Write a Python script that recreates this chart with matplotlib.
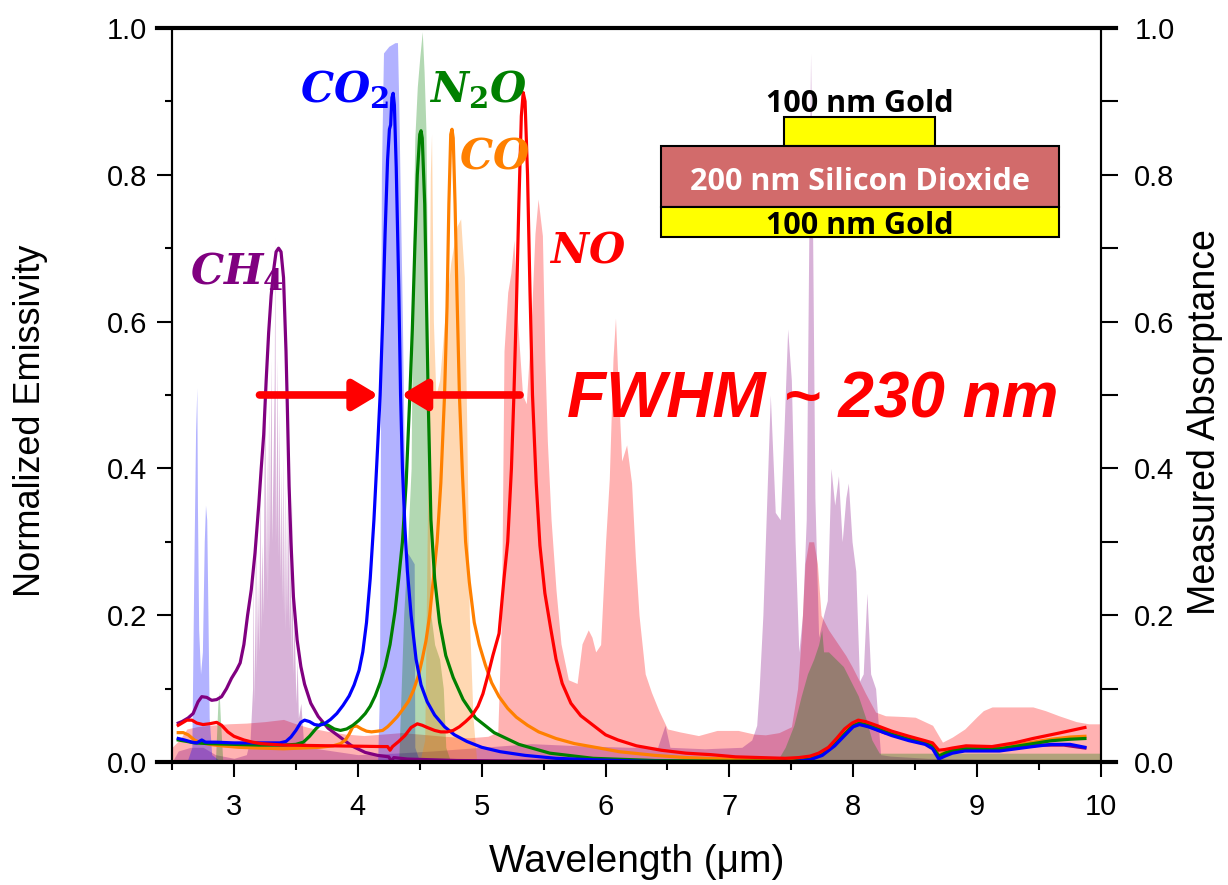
import numpy as np
import matplotlib
matplotlib.use("Agg")
import matplotlib.pyplot as plt
from matplotlib.patches import Rectangle
from matplotlib.ticker import MultipleLocator, FormatStrFormatter

plt.rcParams['font.family'] = ['Liberation Sans', 'DejaVu Sans']
plt.rcParams['mathtext.fontset'] = 'custom'
plt.rcParams['mathtext.it'] = 'DejaVu Serif:italic:bold'
plt.rcParams['mathtext.rm'] = 'DejaVu Serif:bold'

# ---- measured emissivity of the five emitters (left axis) ----
ch4_wl = [2.55, 2.58, 2.63, 2.67, 2.71, 2.74, 2.78, 2.82, 2.86, 2.90, 2.94, 2.98, 3.02, 3.05,
          3.08, 3.11, 3.14, 3.17, 3.20, 3.22, 3.24, 3.26, 3.28, 3.30, 3.32, 3.34, 3.36, 3.38,
          3.40, 3.42, 3.43, 3.445, 3.46, 3.48, 3.51, 3.54, 3.57, 3.62, 3.68, 3.76, 3.84, 3.95,
          4.06, 4.16, 4.25, 4.27, 4.29, 4.40, 4.8, 5.5, 6.5, 7.3, 7.55, 7.7, 7.8, 7.9, 7.97,
          8.04, 8.12, 8.25, 8.4, 8.55, 8.63, 8.68, 8.72, 8.8, 8.9, 9.1, 9.3, 9.5, 9.7, 9.87]
ch4_em = [0.053, 0.055, 0.060, 0.066, 0.082, 0.089, 0.088, 0.084, 0.085, 0.089, 0.100, 0.114,
          0.125, 0.135, 0.160, 0.200, 0.235, 0.285, 0.350, 0.400, 0.446, 0.520, 0.585, 0.635,
          0.670, 0.695, 0.700, 0.695, 0.660, 0.560, 0.490, 0.376, 0.300, 0.225, 0.166, 0.130,
          0.106, 0.080, 0.062, 0.046, 0.036, 0.022, 0.013, 0.009, 0.007, 0.001, 0.006, 0.004,
          0.002, 0.001, 0.001, 0.001, 0.002, 0.008, 0.018, 0.036, 0.048, 0.052, 0.049, 0.040,
          0.034, 0.029, 0.024, 0.010, 0.008, 0.014, 0.016, 0.016, 0.019, 0.023, 0.023, 0.019]

co2_wl = [2.55, 2.60, 2.66, 2.70, 2.74, 2.77, 2.85, 3.0, 3.2, 3.37, 3.42, 3.46, 3.50, 3.54,
          3.57, 3.61, 3.65, 3.69, 3.73, 3.78, 3.83, 3.88, 3.93, 3.97, 4.01, 4.04, 4.07, 4.10,
          4.13, 4.16, 4.18, 4.20, 4.22, 4.24, 4.255, 4.265, 4.275, 4.285, 4.295, 4.31, 4.33,
          4.345, 4.36, 4.38, 4.40, 4.43, 4.47, 4.51, 4.56, 4.62, 4.70, 4.78, 4.88, 5.00, 5.15,
          5.35, 5.6, 5.9, 6.3, 7.0, 7.5, 7.65, 7.75, 7.85, 7.93, 8.0, 8.05, 8.12, 8.2, 8.31,
          8.45, 8.58, 8.64, 8.69, 8.74, 8.80, 8.9, 9.18, 9.45, 9.6, 9.75, 9.87]
co2_em = [0.032, 0.030, 0.027, 0.026, 0.030, 0.027, 0.027, 0.026, 0.026, 0.026, 0.028, 0.034,
          0.043, 0.054, 0.057, 0.055, 0.051, 0.050, 0.052, 0.058, 0.066, 0.077, 0.090, 0.105,
          0.125, 0.150, 0.190, 0.250, 0.330, 0.430, 0.500, 0.600, 0.720, 0.820, 0.862, 0.868,
          0.905, 0.911, 0.895, 0.810, 0.650, 0.500, 0.400, 0.320, 0.260, 0.200, 0.140, 0.105,
          0.082, 0.064, 0.048, 0.037, 0.028, 0.020, 0.014, 0.009, 0.005, 0.003, 0.001, 0.0,
          0.0, 0.003, 0.009, 0.022, 0.036, 0.048, 0.051, 0.048, 0.043, 0.036, 0.029, 0.024,
          0.018, 0.004, 0.008, 0.012, 0.015, 0.015, 0.021, 0.024, 0.024, 0.020]

n2o_wl = [2.55, 2.62, 2.68, 2.80, 3.0, 3.2, 3.40, 3.50, 3.56, 3.61, 3.66, 3.71, 3.76, 3.81,
          3.86, 3.91, 3.96, 4.01, 4.06, 4.10, 4.14, 4.18, 4.22, 4.26, 4.30, 4.33, 4.36, 4.39,
          4.42, 4.44, 4.46, 4.48, 4.50, 4.51, 4.52, 4.54, 4.555, 4.57, 4.59, 4.62, 4.66, 4.71,
          4.77, 4.85, 4.95, 5.10, 5.30, 5.55, 5.9, 6.4, 7.0, 7.5, 7.65, 7.75, 7.85, 7.93, 8.0,
          8.05, 8.12, 8.2, 8.31, 8.45, 8.58, 8.64, 8.69, 8.74, 8.80, 8.9, 9.18, 9.45, 9.6,
          9.75, 9.87]
n2o_em = [0.030, 0.028, 0.026, 0.025, 0.024, 0.023, 0.023, 0.024, 0.027, 0.035, 0.045, 0.053,
          0.050, 0.045, 0.043, 0.045, 0.050, 0.057, 0.066, 0.076, 0.090, 0.108, 0.130, 0.160,
          0.205, 0.250, 0.300, 0.380, 0.500, 0.590, 0.700, 0.800, 0.855, 0.860, 0.850, 0.760,
          0.620, 0.480, 0.330, 0.250, 0.190, 0.145, 0.115, 0.085, 0.060, 0.040, 0.024, 0.012,
          0.005, 0.002, 0.001, 0.001, 0.004, 0.010, 0.024, 0.038, 0.050, 0.053, 0.050, 0.045,
          0.038, 0.031, 0.026, 0.021, 0.008, 0.012, 0.016, 0.018, 0.018, 0.025, 0.029, 0.031,
          0.032]

co_wl = [2.55, 2.59, 2.63, 2.68, 2.72, 2.80, 2.9, 3.04, 3.2, 3.40, 3.55, 3.69, 3.80, 3.86,
         3.90, 3.93, 3.96, 3.99, 4.03, 4.07, 4.11, 4.16, 4.20, 4.24, 4.27, 4.32, 4.36, 4.41,
         4.45, 4.49, 4.52, 4.55, 4.58, 4.61, 4.64, 4.67, 4.70, 4.72, 4.735, 4.75, 4.76, 4.77,
         4.785, 4.80, 4.82, 4.845, 4.87, 4.90, 4.94, 4.98, 5.03, 5.08, 5.14, 5.21, 5.28, 5.37,
         5.46, 5.6, 5.75, 5.95, 6.11, 6.4, 6.65, 7.0, 7.5, 7.65, 7.75, 7.85, 7.93, 8.0, 8.05,
         8.12, 8.2, 8.31, 8.45, 8.58, 8.64, 8.69, 8.74, 8.80, 8.9, 9.18, 9.45, 9.6, 9.75, 9.87]
co_em = [0.040, 0.040, 0.037, 0.030, 0.027, 0.024, 0.022, 0.020, 0.019, 0.018, 0.019, 0.020,
         0.022, 0.025, 0.030, 0.038, 0.048, 0.049, 0.045, 0.042, 0.041, 0.042, 0.043, 0.048,
         0.053, 0.062, 0.071, 0.083, 0.098, 0.118, 0.140, 0.165, 0.200, 0.250, 0.300, 0.380,
         0.500, 0.620, 0.760, 0.855, 0.862, 0.850, 0.760, 0.640, 0.500, 0.390, 0.300, 0.245,
         0.190, 0.160, 0.132, 0.108, 0.089, 0.073, 0.061, 0.050, 0.041, 0.032, 0.025, 0.019,
         0.014, 0.009, 0.006, 0.004, 0.003, 0.006, 0.012, 0.025, 0.040, 0.051, 0.054, 0.051,
         0.046, 0.039, 0.032, 0.027, 0.022, 0.010, 0.013, 0.017, 0.019, 0.019, 0.027, 0.031,
         0.034, 0.035]

no_wl = [2.55, 2.58, 2.62, 2.66, 2.70, 2.75, 2.80, 2.86, 2.90, 2.95, 3.00, 3.08, 3.15, 3.22,
         3.40, 3.8, 4.20, 4.24, 4.26, 4.28, 4.33, 4.38, 4.43, 4.48, 4.52, 4.56, 4.62, 4.67,
         4.72, 4.77, 4.82, 4.87, 4.92, 4.97, 5.01, 5.05, 5.09, 5.14, 5.18, 5.21, 5.24, 5.26,
         5.28, 5.30, 5.32, 5.335, 5.35, 5.37, 5.39, 5.41, 5.44, 5.47, 5.51, 5.556, 5.60, 5.65,
         5.72, 5.80, 5.90, 6.00, 6.10, 6.25, 6.45, 6.65, 6.85, 7.05, 7.25, 7.45, 7.56, 7.65,
         7.72, 7.80, 7.87, 7.93, 7.99, 8.04, 8.10, 8.20, 8.31, 8.45, 8.58, 8.64, 8.69, 8.74,
         8.80, 8.91, 9.12, 9.30, 9.45, 9.65, 9.87]
no_em = [0.050, 0.053, 0.057, 0.057, 0.053, 0.051, 0.052, 0.054, 0.050, 0.041, 0.035, 0.030,
         0.027, 0.025, 0.023, 0.022, 0.021, 0.021, 0.016, 0.021, 0.028, 0.036, 0.047, 0.052,
         0.050, 0.047, 0.043, 0.041, 0.041, 0.043, 0.048, 0.055, 0.063, 0.076, 0.093, 0.118,
         0.145, 0.175, 0.250, 0.300, 0.400, 0.500, 0.620, 0.760, 0.880, 0.912, 0.900, 0.800,
         0.640, 0.500, 0.380, 0.295, 0.230, 0.183, 0.140, 0.107, 0.080, 0.063, 0.050, 0.037,
         0.030, 0.022, 0.016, 0.012, 0.010, 0.007, 0.006, 0.005, 0.006, 0.008, 0.012, 0.020,
         0.033, 0.045, 0.053, 0.057, 0.055, 0.049, 0.042, 0.035, 0.029, 0.026, 0.016, 0.017,
         0.019, 0.022, 0.021, 0.026, 0.032, 0.039, 0.047]

# ---- gas absorptance spectra (right axis) ----
ch4_abs_wl = [2.50, 2.55, 2.65, 2.75, 2.85, 3.0, 3.10, 3.13, 3.15, 3.155, 3.16, 3.17, 3.175,
              3.18, 3.19, 3.20, 3.21, 3.215, 3.225, 3.235, 3.245, 3.25, 3.255, 3.265, 3.27,
              3.28, 3.285, 3.295, 3.30, 3.305, 3.315, 3.325, 3.33, 3.335, 3.345, 3.35, 3.355,
              3.365, 3.37, 3.38, 3.385, 3.395, 3.40, 3.41, 3.415, 3.425, 3.43, 3.44, 3.445,
              3.455, 3.46, 3.47, 3.475, 3.485, 3.50, 3.51, 3.52, 3.54, 3.56, 3.6, 3.8, 4.0,
              4.3, 4.6, 5.0, 5.4, 5.8, 6.2, 6.42, 6.48, 6.52, 6.8, 7.1, 7.18, 7.22, 7.24, 7.27,
              7.30, 7.33, 7.35, 7.37, 7.41, 7.44, 7.47, 7.50, 7.53, 7.56, 7.59, 7.62, 7.64,
              7.655, 7.67, 7.69, 7.72, 7.76, 7.79, 7.82, 7.85, 7.88, 7.91, 7.94, 7.96, 7.99,
              8.02, 8.05, 8.08, 8.11, 8.14, 8.18, 8.22, 8.3, 8.6, 9.0, 10.0]
ch4_abs = [0.0, 0.015, 0.02, 0.02, 0.01, 0.005, 0.01, 0.03, 0.10, 0.27, 0.08, 0.20, 0.36,
           0.12, 0.25, 0.15, 0.40, 0.18, 0.30, 0.20, 0.45, 0.54, 0.25, 0.42, 0.22, 0.50, 0.28,
           0.46, 0.55, 0.30, 0.40, 0.52, 0.716, 0.30, 0.45, 0.55, 0.28, 0.48, 0.25, 0.40,
           0.22, 0.42, 0.20, 0.38, 0.18, 0.36, 0.20, 0.44, 0.18, 0.30, 0.14, 0.36, 0.12, 0.20,
           0.08, 0.14, 0.06, 0.08, 0.03, 0.02, 0.015, 0.01, 0.012, 0.015, 0.02, 0.025, 0.022,
           0.02, 0.02, 0.05, 0.02, 0.018, 0.02, 0.03, 0.05, 0.10, 0.20, 0.35, 0.50, 0.42,
           0.34, 0.33, 0.45, 0.59, 0.52, 0.30, 0.15, 0.20, 0.33, 0.70, 0.966, 0.75, 0.36,
           0.17, 0.20, 0.22, 0.40, 0.35, 0.39, 0.30, 0.36, 0.38, 0.30, 0.26, 0.11, 0.12, 0.23,
           0.12, 0.10, 0.01, 0.008, 0.005, 0.004, 0.003]

co2_abs_wl = [2.62, 2.66, 2.675, 2.69, 2.70, 2.705, 2.715, 2.73, 2.745, 2.76, 2.77, 2.78, 2.79,
              2.80, 2.82, 2.9, 4.10, 4.16, 4.175, 4.19, 4.207, 4.25, 4.30, 4.32, 4.33, 4.36,
              4.376, 4.38, 4.42, 4.455, 4.46, 4.50]
co2_abs = [0.0, 0.02, 0.25, 0.45, 0.51, 0.35, 0.18, 0.12, 0.15, 0.30, 0.35, 0.33, 0.20, 0.06,
           0.01, 0.0, 0.0, 0.0, 0.10, 0.80, 0.966, 0.975, 0.98, 0.98, 0.90, 0.60, 0.40, 0.29,
           0.28, 0.27, 0.02, 0.0]

n2o_abs_wl = [2.85, 2.87, 2.88, 2.89, 2.91, 4.33, 4.37, 4.40, 4.43, 4.445, 4.46, 4.48, 4.50,
              4.52, 4.535, 4.55, 4.56, 4.57, 4.59, 4.62, 4.66, 4.69, 4.71, 4.75, 7.38, 7.45,
              7.52, 7.58, 7.63, 7.68, 7.72, 7.745, 7.76, 7.80, 7.86, 7.92, 7.98, 8.04, 8.10,
              8.15, 8.21, 8.30, 9.0, 10.0]
n2o_abs = [0.0, 0.08, 0.096, 0.06, 0.0, 0.0, 0.20, 0.29, 0.40, 0.70, 0.85, 0.92, 0.96, 0.995,
           0.94, 0.86, 0.70, 0.40, 0.20, 0.16, 0.14, 0.10, 0.02, 0.0, 0.0, 0.02, 0.05, 0.09,
           0.12, 0.14, 0.16, 0.18, 0.15, 0.15, 0.14, 0.13, 0.11, 0.09, 0.06, 0.03, 0.012,
           0.012, 0.012, 0.012]

co_abs_wl = [4.50, 4.54, 4.57, 4.585, 4.595, 4.61, 4.63, 4.66, 4.70, 4.75, 4.80, 4.83, 4.86,
             4.88, 4.90, 4.93, 4.96]
co_abs = [0.0, 0.03, 0.45, 0.80, 0.856, 0.60, 0.50, 0.52, 0.60, 0.68, 0.73, 0.74, 0.66, 0.45,
          0.20, 0.06, 0.0]

no_abs_wl = [2.50, 2.56, 2.62, 2.70, 2.80, 2.95, 3.10, 3.25, 3.40, 3.50, 3.60, 3.75, 3.90,
             4.05, 4.20, 4.35, 4.50, 4.70, 4.90, 5.05, 5.13, 5.16, 5.18, 5.21, 5.235, 5.26,
             5.29, 5.33, 5.36, 5.40, 5.43, 5.455, 5.49, 5.51, 5.53, 5.56, 5.60, 5.64, 5.70,
             5.77, 5.81, 5.86, 5.89, 5.92, 5.96, 6.00, 6.03, 6.06, 6.08, 6.10, 6.13, 6.17,
             6.21, 6.24, 6.27, 6.32, 6.37, 6.43, 6.50, 6.6, 6.75, 6.9, 7.07, 7.2, 7.29, 7.40,
             7.50, 7.55, 7.58, 7.61, 7.64, 7.68, 7.71, 7.74, 7.80, 7.88, 7.94, 7.99, 8.05, 8.10,
             8.18, 8.26, 8.40, 8.50, 8.64, 8.72, 8.80, 8.90, 9.00, 9.05, 9.12, 9.30, 9.45, 9.55,
             9.66, 9.80, 9.90, 10.0]
no_abs = [0.020, 0.030, 0.045, 0.048, 0.050, 0.052, 0.053, 0.055, 0.058, 0.052, 0.047, 0.042,
          0.038, 0.036, 0.038, 0.040, 0.038, 0.035, 0.033, 0.035, 0.041, 0.20, 0.56, 0.64,
          0.666, 0.711, 0.60, 0.50, 0.488, 0.60, 0.72, 0.767, 0.717, 0.55, 0.437, 0.33, 0.234,
          0.161, 0.112, 0.107, 0.161, 0.18, 0.17, 0.15, 0.16, 0.30, 0.386, 0.55, 0.605, 0.52,
          0.41, 0.432, 0.38, 0.28, 0.20, 0.12, 0.095, 0.07, 0.045, 0.041, 0.036, 0.043, 0.043,
          0.038, 0.037, 0.040, 0.048, 0.10, 0.17, 0.27, 0.30, 0.30, 0.27, 0.20, 0.18, 0.16,
          0.145, 0.13, 0.11, 0.093, 0.068, 0.063, 0.062, 0.061, 0.050, 0.027, 0.034, 0.045,
          0.062, 0.070, 0.075, 0.075, 0.075, 0.070, 0.063, 0.055, 0.052, 0.052]

# plotting order: (label, color, wl, emissivity, abs wl, absorptance)
gases = [
    ("NO", "#FF0000", no_wl, no_em, no_abs_wl, no_abs),
    ("CH4", "#800080", ch4_wl, ch4_em, ch4_abs_wl, ch4_abs),
    ("CO2", "#0000FF", co2_wl, co2_em, co2_abs_wl, co2_abs),
    ("N2O", "#008000", n2o_wl, n2o_em, n2o_abs_wl, n2o_abs),
    ("CO", "#FF8000", co_wl, co_em, co_abs_wl, co_abs),
]

fig = plt.figure(figsize=(12.28, 8.85), dpi=100)
ax = fig.add_axes([0.1401, 0.1390, 0.7565, 0.8294])
ax2 = ax.twinx()

# absorptance fills first, then the emission lines on top
for name, col, wl, em, awl, ab in gases:
    ax.fill_between(awl, 0, ab, color=col, alpha=0.3, lw=0, zorder=1)

line_order = ["CH4", "CO", "N2O", "CO2", "NO"]
for key in line_order:
    for name, col, wl, em, awl, ab in gases:
        if name == key:
            ax.plot(wl, em, color=col, lw=2.3, zorder=3, solid_joinstyle='round')

ax.set_xlim(2.5, 10)
ax.set_ylim(0, 1.0)
ax2.set_ylim(0, 1.0)

for a in (ax, ax2):
    for s in ("top", "bottom"):
        a.spines[s].set_visible(False)
    a.spines["left"].set_linewidth(1.5)
    a.spines["right"].set_linewidth(1.5)

# the thick horizontal axis lines run a bit past the frame
ax.axhline(0, xmin=-0.016, xmax=1.016, color="black", lw=3, clip_on=False, zorder=6)
ax.axhline(1, xmin=-0.016, xmax=1.016, color="black", lw=3, clip_on=False, zorder=6)

ax.xaxis.set_major_locator(MultipleLocator(1))
ax.xaxis.set_minor_locator(MultipleLocator(0.5))
ax.set_xticks([3, 4, 5, 6, 7, 8, 9, 10])
ax.yaxis.set_major_locator(MultipleLocator(0.2))
ax.yaxis.set_minor_locator(MultipleLocator(0.1))
ax.yaxis.set_major_formatter(FormatStrFormatter("%.1f"))
ax2.yaxis.set_major_locator(MultipleLocator(0.2))
ax2.yaxis.set_minor_locator(MultipleLocator(0.1))
ax2.yaxis.set_major_formatter(FormatStrFormatter("%.1f"))

ax.tick_params(axis="x", which="major", direction="out", length=11, width=1.5,
               labelsize=21, pad=11, top=False)
ax.tick_params(axis="x", which="minor", direction="out", length=6, width=1.5, top=False)
ax.tick_params(axis="y", which="major", direction="out", length=11, width=1.5,
               labelsize=21, pad=7, right=False)
ax.tick_params(axis="y", which="minor", direction="out", length=5, width=1.5, right=False)
ax2.tick_params(axis="y", which="major", direction="out", length=12, width=1.5,
                labelsize=21, pad=12)
ax2.tick_params(axis="y", which="minor", direction="out", length=12, width=1.5)

ax.set_xlabel("Wavelength (\u03bcm)", fontsize=28, va="center")
ax.xaxis.set_label_coords(0.5, -0.136)
ax.set_ylabel("Normalized Emissivity", fontsize=26, va="center")
ax.yaxis.set_label_coords(-0.152, 0.465)
ax2.set_ylabel("Measured Absorptance", fontsize=27, va="center", rotation=90)
ax2.yaxis.set_label_coords(1.112, 0.463)

# gas labels
label_pos = {"CO2": (3.53, 0.899, r"$CO_2$"), "N2O": (4.577, 0.899, r"$N_2O$"),
             "CO": (4.82, 0.809, r"$CO$"), "NO": (5.543, 0.681, r"$NO$"),
             "CH4": (2.645, 0.650, r"$CH_4$")}
for name, col, wl, em, awl, ab in gases:
    x, y, s = label_pos[name]
    ax.text(x, y, s, color=col, fontsize=30, ha="left", va="baseline", zorder=5)

# FWHM arrows and text
ax.annotate("", xy=(4.166, 0.5), xytext=(3.206, 0.5),
            arrowprops=dict(arrowstyle="-|>,head_length=1.5,head_width=0.9", mutation_scale=10,
                            lw=5.5, color="red", shrinkA=0, shrinkB=0), zorder=4)
ax.annotate("", xy=(4.35, 0.5), xytext=(5.31, 0.5),
            arrowprops=dict(arrowstyle="-|>,head_length=1.5,head_width=0.9", mutation_scale=10,
                            lw=5.5, color="red", shrinkA=0, shrinkB=0), zorder=4)
ax.text(5.69, 0.469, "FWHM ~ 230 nm", color="red", fontsize=46, fontweight="bold",
        fontstyle="italic", ha="left", va="baseline", zorder=5)

# device cross-section inset
ax.add_patch(Rectangle((7.44, 0.839), 1.22, 0.040, facecolor="#FFFF00", edgecolor="black",
                       lw=1.5, zorder=10))
ax.add_patch(Rectangle((6.445, 0.756), 3.215, 0.083, facecolor="#D26B6B", edgecolor="black",
                       lw=1.5, zorder=10))
ax.add_patch(Rectangle((6.445, 0.715), 3.215, 0.041, facecolor="#FFFF00", edgecolor="black",
                       lw=1.5, zorder=10))
ax.text(8.05, 0.886, "100 nm Gold", family="Open Sans", fontweight="bold", fontsize=22,
        ha="center", va="baseline", zorder=11)
ax.text(8.05, 0.779, "200 nm Silicon Dioxide", family="Open Sans", fontweight="bold",
        fontsize=22, color="white", ha="center", va="baseline", zorder=11)
ax.text(8.05, 0.719, "100 nm Gold", family="Open Sans", fontweight="bold", fontsize=22,
        ha="center", va="baseline", zorder=11)

fig.savefig("out.png", dpi=100)
